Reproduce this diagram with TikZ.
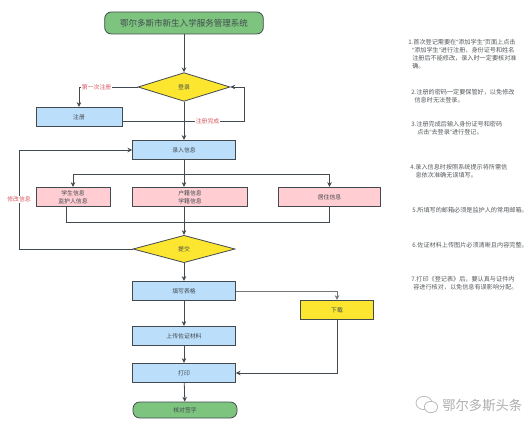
\documentclass[tikz,border=0pt]{standalone}
\usepackage{fontspec}
\usepackage{xcolor}
\setmainfont{Noto Sans CJK SC}
\newfontfamily\quotefont{Liberation Sans}
\newcommand{\qopen}{{\quotefont “}}
\newcommand{\qclose}{{\quotefont ”}}
\usetikzlibrary{
  arrows.meta,
  shapes.geometric,
  positioning
}
\definecolor{fcGreen}{HTML}{7DC47F}
\definecolor{fcYellow}{HTML}{FCE62F}
\definecolor{fcBlue}{HTML}{BBDEFB}
\definecolor{fcPink}{HTML}{FFCDD2}
\definecolor{fcLine}{HTML}{424A4F}
\definecolor{fcRed}{HTML}{D9575F}
\definecolor{fcNote}{HTML}{55595C}
\tikzset{
  fcnode/.style={
    draw=fcLine, line width=0.6pt, inner sep=0pt, align=center, text=fcLine,
    font=\fontsize{4.4pt}{6pt}\selectfont
  },
  startbox/.style={fcnode, rounded corners=5pt, fill=fcGreen},
  choice/.style={fcnode, diamond, aspect=3.2, fill=fcYellow},
  bluebox/.style={fcnode, fill=fcBlue, minimum height=14.5pt},
  pinkbox/.style={fcnode, fill=fcPink, minimum height=14.5pt},
  yellowbox/.style={fcnode, fill=fcYellow, minimum width=54.5pt, minimum height=14.5pt},
  flow/.style={-{Stealth[length=3.6pt,width=3.4pt]}, line width=0.6pt, fcLine},
  netline/.style={line width=0.6pt, fcLine},
  tag/.style={font=\fontsize{4.4pt}{5pt}\selectfont, text=fcRed, fill=white, inner sep=0.5pt},
  note/.style={anchor=north west, inner sep=0pt, align=left, text=fcNote,
    font=\fontsize{4.6pt}{5.9pt}\selectfont},
  markbubble/.style={draw=black!30, ellipse, line width=0.5pt, inner sep=0pt}
}
\begin{document}
\begin{tikzpicture}[x=0.75pt, y=-0.75pt]
  \useasboundingbox (0,0) rectangle (531,424);
  % flow chart
  \node[startbox, minimum width=119pt, minimum height=16.5pt, font=\fontsize{6.4pt}{7pt}\selectfont] (title) at (184,23) {鄂尔多斯市新生入学服务管理系统};
  \node[choice, minimum width=69pt, minimum height=21.5pt] (login) at (184,87) {登录};
  \node[bluebox, minimum width=64.5pt] (register) at (79,117) {注册};
  \node[bluebox, minimum width=77pt] (input) at (184,150) {录入信息};
  \node[pinkbox, minimum width=55.5pt] (student) at (73,197) {学生信息\\监护人信息};
  \node[pinkbox, minimum width=86pt] (household) at (190,197) {户籍信息\\学籍信息};
  \node[pinkbox, minimum width=77pt] (residence) at (329.5,197) {居住信息};
  \node[choice, minimum width=76.5pt, minimum height=20.5pt] (submit) at (184,249) {提交};
  \node[bluebox, minimum width=77pt] (fill) at (184,291) {填写表格};
  \node[yellowbox] (download) at (337,310) {下载};
  \node[bluebox, minimum width=77pt] (upload) at (184,336) {上传佐证材料};
  \node[bluebox, minimum width=77pt] (print) at (184,373) {打印};
  \node[startbox, minimum width=78pt, minimum height=12pt] (check) at (185,410) {核对签字};
  \coordinate (busTop) at (184,174);
  \coordinate (busLow) at (184,222);
  % connectors
  \draw[flow] (title) -- (login);
  \draw[flow] (login.west) -| (register.north) node[tag, pos=0.35] {第一次注册};
  \draw[flow] (register.east |- 0,121) -- (244,121) node[tag, pos=0.7] {注册完成} |- (login.east);
  \draw[flow] (login) -- (input);
  \draw[flow] (input.south) -- (input.south |- household.north);
  \draw[flow] (busTop) -| (student.north);
  \draw[flow] (busTop) -| (residence.north);
  \draw[netline] (student.south -| 66,0) |- (busLow);
  \draw[netline] (residence.south) |- (busLow);
  \draw[flow] (184,207) -- (submit.north);
  \draw[flow] (submit.west) -- (19,249) |- (input.west) node[tag, pos=0.25] {修改信息};
  \draw[flow] (submit) -- (fill);
  \draw[flow, draw=fcLine!75] (fill.east) -| (download.north);
  \draw[flow] (fill) -- (upload);
  \draw[flow] (upload) -- (print);
  \draw[flow] (download.south) |- (print.east);
  \draw[flow] (print) -- (check);
  % notes
  \node[note] (note1) at (408,39) {1.首次登记需要在\qopen 添加学生\qclose 页面上点击\\\hspace*{3pt}\qopen 添加学生\qclose 进行注册，身份证号和姓名\\\hspace*{3pt}注册后不能修改，录入时一定要核对准\\\hspace*{3pt}确。};
  \node[note] (note2) at (411,89) {2.注册的密码一定要保管好，以免修改\\\hspace*{2.5pt}信息时无法登录。};
  \node[note] (note3) at (411,121) {3.注册完成后输入身份证号和密码\\\hspace*{4.5pt}点击\qopen 去登录\qclose 进行登记。};
  \node[note] (note4) at (410,164) {4.录入信息时按照系统提示将所需信\\\hspace*{4pt}息依次准确无误填写。};
  \node[note] (note5) at (412,207) {5.所填写的邮箱必须是监护人的常用邮箱。};
  \node[note] (note6) at (412,242) {6.佐证材料上传图片必须清晰且内容完整。};
  \node[note] (note7) at (411,276) {7.打印《登记表》后，要认真与证件内\\\hspace*{1.5pt}容进行核对，以免信息有误影响分配。};
  % watermark
  \node[markbubble, minimum width=12pt, minimum height=10pt] (bubbleA) at (424,403) {};
  \node[markbubble, fill=white, minimum width=10pt, minimum height=8.5pt] (bubbleB) at (431,407) {};
  \node[anchor=west, inner sep=0pt, text=black!32, font=\fontsize{10pt}{11pt}\selectfont] (mark) at (442,406) {鄂尔多斯头条};
\end{tikzpicture}
\end{document}
